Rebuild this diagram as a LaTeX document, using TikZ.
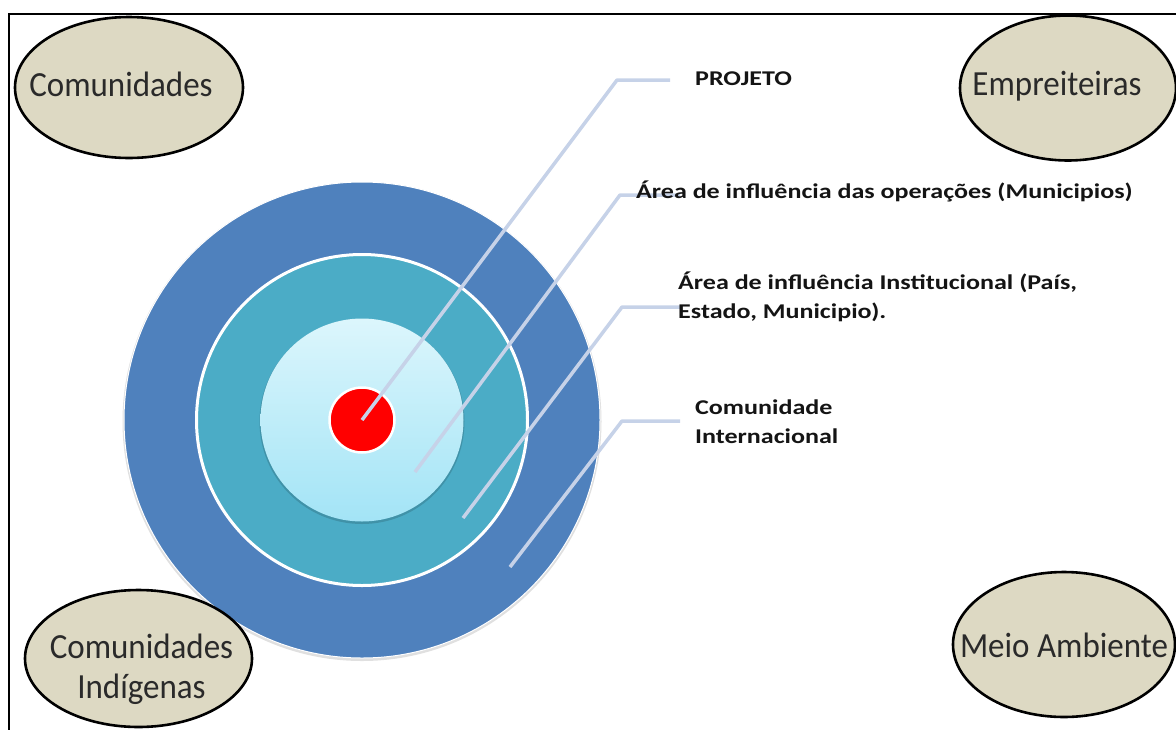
\documentclass[tikz,border=0pt]{standalone}
\usepackage{fontspec}
\setmainfont{Carlito}
\usetikzlibrary{shapes.geometric}
\definecolor{ringblue}{HTML}{4F81BD}
\definecolor{ringteal}{HTML}{4BACC6}
\definecolor{innertop}{HTML}{DCF6FC}
\definecolor{innerbot}{HTML}{A3E4F6}
\definecolor{stakefill}{HTML}{DDD9C3}
\definecolor{leader}{HTML}{C6D2E8}
\definecolor{stxt}{HTML}{2A2A2A}
\newcommand{\stk}[1]{\scalebox{1}[1.07]{\begin{tabular}{@{}c@{}}#1\end{tabular}}}
\newcommand{\lbt}[1]{\scalebox{1.24}[1]{\begin{tabular}{@{}l@{}}#1\end{tabular}}}
\tikzset{
  stake/.style={ellipse, draw=black, line width=2.6pt, fill=stakefill, inner sep=0pt},
  stakelabel/.style={inner sep=0pt, text=stxt, font=\fontsize{33}{37}\selectfont},
  lbl/.style={inner sep=0pt, anchor=west, text=black!92,
    font=\bfseries\fontsize{21}{29}\selectfont},
  leaderline/.style={draw=leader, line width=3.5pt, line join=round}
}
\begin{document}
\begin{tikzpicture}[x=1pt,y=-1pt]
\useasboundingbox (0,0) rectangle (1176,729);
\begin{scope}
\clip (0,0) rectangle (1176,729);
\draw[line width=2.5pt] (9,14) rectangle (1200,760);
% rings
\fill[black!12] (362,421.5) circle (239.5);
\node[circle, fill=ringblue, draw=white, line width=1pt, minimum size=476pt, inner sep=0pt] (outer) at (362,420) {};
\node[circle, fill=ringteal, draw=white, line width=3pt, minimum size=331pt, inner sep=0pt] (middle) at (362,420) {};
\fill[ringteal!85!black] (362,421.5) circle (102.5);
\node[circle, top color=innertop, bottom color=innerbot, minimum size=203pt, inner sep=0pt] (inner) at (362,420) {};
\node[circle, fill=red, draw=white, line width=2.5pt, minimum size=65pt, inner sep=0pt] (proj) at (362,420) {};
% leader coordinates
\coordinate (s2) at (415,472);
\coordinate (s3) at (463,518);
\coordinate (s4) at (510,567);
\coordinate (k1) at (617,80);
\coordinate (k2) at (620,195);
\coordinate (k3) at (622,307);
\coordinate (k4) at (622,421);
\coordinate (t1) at (670,80);
\coordinate (t2) at (680,195);
\coordinate (t3) at (680,307);
\coordinate (t4) at (680,421);
\draw[leaderline] (proj.center) -- (k1) -- (t1);
\draw[leaderline] (s2) -- (k2) -- (t2);
\draw[leaderline] (s3) -- (k3) -- (t3);
\draw[leaderline] (s4) -- (k4) -- (t4);
% labels
\node[lbl] (l1) at (695,80) {\lbt{PROJETO}};
\node[lbl] (l2) at (636,193) {\lbt{Área de influência das operações (Municipios)}};
\node[lbl] (l3) at (678,298) {\lbt{Área de influência Institucional (País,\\Estado, Municipio).}};
\node[lbl] (l4) at (695,423) {\lbt{Comunidade\\Internacional}};
% stakeholders
\node[stake, minimum width=228pt, minimum height=141pt,
  label={[stakelabel, xshift=-8pt, yshift=-1pt]center:\stk{Comunidades}}] (com) at (129,87.5) {};
\node[stake, minimum width=216pt, minimum height=145pt,
  label={[stakelabel, xshift=-11pt, yshift=0pt]center:\stk{Empreiteiras}}] (emp) at (1068,88) {};
\node[stake, minimum width=227pt, minimum height=137pt,
  label={[stakelabel, xshift=3pt, yshift=-12pt]center:\stk{Comunidades\\Indígenas}}] (ind) at (138.5,658.5) {};
\node[stake, minimum width=222pt, minimum height=145pt,
  label={[stakelabel, yshift=-5pt]center:\stk{Meio Ambiente}}] (mei) at (1064,644.5) {};
\end{scope}
\end{tikzpicture}
\end{document}
